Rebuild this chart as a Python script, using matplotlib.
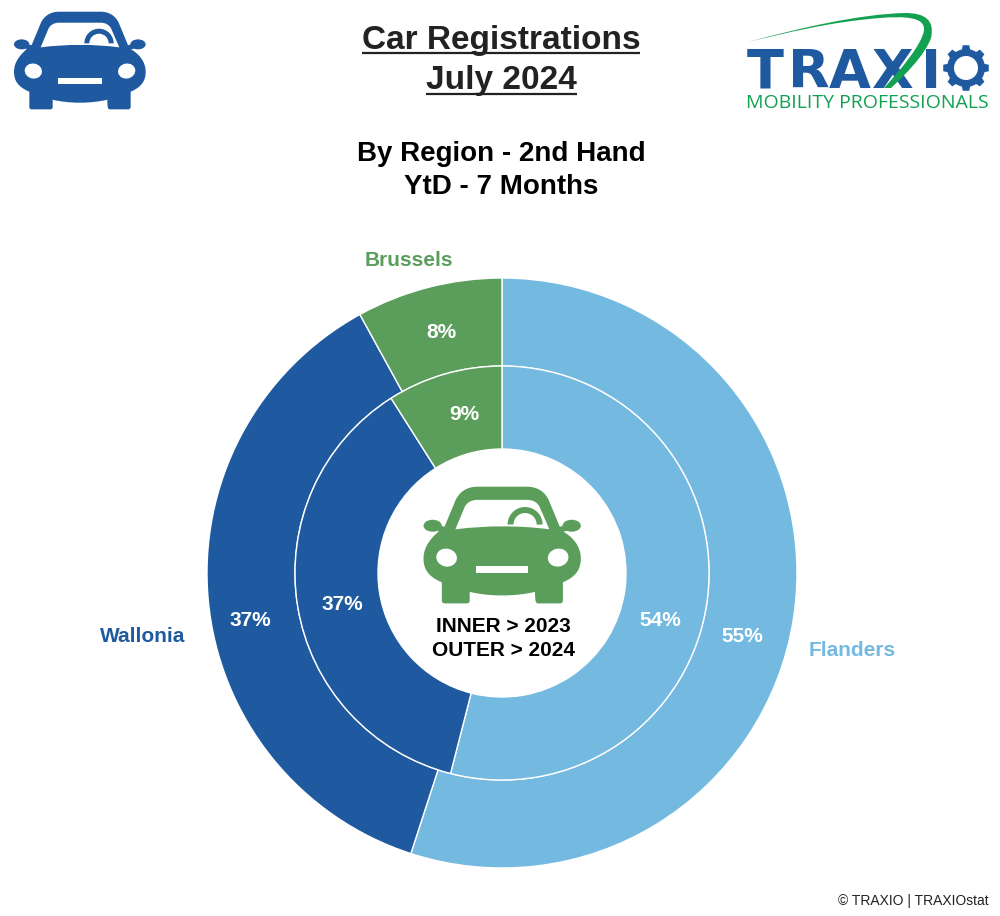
import numpy as np
import matplotlib
matplotlib.use('Agg')
import matplotlib.pyplot as plt
from matplotlib.path import Path
from matplotlib.patches import PathPatch, Ellipse, Rectangle, Wedge, Circle, Polygon

plt.rcParams['font.family'] = ['Liberation Sans', 'DejaVu Sans']

regions = ['Flanders', 'Wallonia', 'Brussels']
share_2024 = [55, 37, 8]
share_2023 = [54, 37, 9]
region_colors = ['#74B9E0', '#1F5AA0', '#5B9E5C']

W, H = 1000, 916
BLUE = '#1F5AA0'
GREEN = '#5B9E5C'
LOGO_GREEN = '#12A150'


def py(y):
    # picture y (down) to axes y (up)
    return H - y


def draw_car(ax, left, top, scale, color):
    # car outline, coords are in a 395 wide box
    def pt(x, y):
        return (left + x * scale, py(top + y * scale))

    M, C, L = Path.MOVETO, Path.CURVE4, Path.LINETO
    body = [
        (M, (53, 100)), (L, (80, 35)), (C, (90, 12)), (C, (110, 0)), (C, (135, 0)),
        (L, (260, 0)), (C, (285, 0)), (C, (305, 12)), (C, (315, 35)),
        (L, (346, 110)), (C, (375, 125)), (C, (395, 150)), (C, (395, 180)),
        (C, (395, 205)), (C, (385, 225)), (C, (350, 240)),
        (L, (350, 285)), (C, (350, 291)), (C, (346, 293)), (C, (342, 293)),
        (L, (288, 293)), (C, (282, 293)), (C, (280, 290)), (C, (280, 264)),
        (C, (230, 276)), (C, (165, 276)), (C, (116, 264)),
        (L, (116, 285)), (C, (116, 291)), (C, (113, 293)), (C, (108, 293)),
        (L, (54, 293)), (C, (49, 293)), (C, (46, 291)), (C, (46, 285)),
        (L, (46, 240)), (C, (10, 225)), (C, (0, 205)), (C, (0, 180)),
        (C, (0, 150)), (C, (20, 125)), (C, (53, 100)),
    ]
    codes = [c for c, _ in body]
    verts = [pt(*v) for _, v in body]
    ax.add_patch(PathPatch(Path(verts, codes), fc=color, ec='none', zorder=5))

    window = [
        (M, (80, 107)), (L, (103, 52)), (C, (108, 40)), (C, (120, 33)), (C, (135, 33)),
        (L, (260, 33)), (C, (275, 33)), (C, (287, 40)), (C, (292, 52)),
        (L, (316, 107)), (C, (240, 97)), (C, (160, 97)), (C, (80, 107)),
    ]
    ax.add_patch(PathPatch(Path([pt(*v) for _, v in window], [c for c, _ in window]),
                           fc='white', ec='none', zorder=6))
    # wiper arc
    cx, cy = pt(255, 95)
    ax.add_patch(Wedge((cx, cy), 44 * scale, 0, 180, width=15 * scale, fc=color, ec='none', zorder=7))
    # mirrors
    for mx, nx in ((23, 45), (372, 350)):
        x, y = pt(mx, 98)
        ax.add_patch(Ellipse((x, y), 46 * scale, 30 * scale, fc=color, ec='none', zorder=5))
        x, y = pt(nx, 106)
        ax.add_patch(Ellipse((x, y), 24 * scale, 14 * scale, fc=color, ec='none', zorder=5))
    # headlights
    for hx, ang in ((58, -12), (338, 12)):
        x, y = pt(hx, 178)
        ax.add_patch(Ellipse((x, y), 52 * scale, 45 * scale, angle=ang, fc='white', ec='none', zorder=6))
    # grille
    x0, y0 = pt(133, 217)
    ax.add_patch(Rectangle((x0, y0), 130 * scale, 17 * scale, fc='white', ec='none', zorder=6))


def draw_gear(ax, cx, cy, r_out, r_in, r_hole, color, teeth=8):
    pts = []
    step = 2 * np.pi / teeth
    for i in range(teeth):
        a = i * step + np.pi / 2
        for da, r in ((-0.5, r_in), (-0.28, r_in), (-0.18, r_out), (0.18, r_out), (0.28, r_in), (0.5, r_in)):
            pts.append((cx + r * np.cos(a + da * step), cy + r * np.sin(a + da * step)))
    ax.add_patch(Polygon(pts, closed=True, fc=color, ec='none', zorder=5))
    ax.add_patch(Circle((cx, cy), r_hole, fc='white', ec='none', zorder=6))


fig = plt.figure(figsize=(W / 100, H / 100), dpi=100, facecolor='white')
ax = fig.add_axes([0, 0, 1, 1])

CX, CY = 502, py(573)
ax.pie(share_2024, colors=region_colors, radius=295, center=(CX, CY), startangle=90,
       counterclock=False, wedgeprops=dict(width=88, edgecolor='white', linewidth=1.0))
ax.pie(share_2023, colors=region_colors, radius=207, center=(CX, CY), startangle=90,
       counterclock=False, wedgeprops=dict(width=83, edgecolor='white', linewidth=1.0))
ax.set_xlim(0, W)
ax.set_ylim(0, H)
ax.set_aspect('equal')
ax.axis('off')

# titles
for txt, y, x0, x1, uy in (('Car Registrations', 40, 362, 640, 53), ('July 2024', 81, 426, 577, 94)):
    ax.text(501, py(y), txt, fontsize=24, fontweight='bold', color='#222222', ha='center', va='center')
    ax.plot([x0, x1], [py(uy)] * 2, color='#222222', lw=1.6, solid_capstyle='butt')
ax.text(501, py(154), 'By Region - 2nd Hand', fontsize=20, fontweight='bold', color='black', ha='center', va='center')
ax.text(501, py(187), 'YtD - 7 Months', fontsize=20, fontweight='bold', color='black', ha='center', va='center')

# region names
name_pos = [(852, 651), (142.5, 636), (409, 261)]
for name, col, (x, y) in zip(regions, region_colors, name_pos):
    ax.text(x, py(y), name, fontsize=15, fontweight='bold', color=col, ha='center', va='center')

# percent labels
outer_pos = [(742, 637), (250, 620), (441, 333)]
inner_pos = [(660, 620), (342, 604), (464, 414)]
for vals, positions in ((share_2024, outer_pos), (share_2023, inner_pos)):
    for v, (x, y) in zip(vals, positions):
        ax.text(x, py(y), f'{v}%', fontsize=15, fontweight='bold', color='white', ha='center', va='center')

ax.text(503, py(626), 'INNER > 2023', fontsize=15, fontweight='bold', color='black', ha='center', va='center', zorder=8)
ax.text(503, py(651), 'OUTER > 2024', fontsize=15, fontweight='bold', color='black', ha='center', va='center', zorder=8)

draw_car(ax, 14, 11.7, 1 / 3, BLUE)
draw_car(ax, 423.5, 486.7, 1.195 / 3, GREEN)

# logo
for letter, x in zip('TRAXI', (765, 809, 850, 893, 931)):
    ax.text(x, py(88), letter, fontsize=39, fontweight='bold', family='DejaVu Sans', color=BLUE,
            ha='center', va='baseline')
draw_gear(ax, 966, py(68), 23, 19, 12, BLUE)
swoosh = [
    (Path.MOVETO, (748, 42)), (Path.CURVE4, (800, 28)), (Path.CURVE4, (860, 14)), (Path.CURVE4, (905, 13)),
    (Path.CURVE4, (925, 13)), (Path.CURVE4, (935, 20)), (Path.CURVE4, (931, 38)),
    (Path.CURVE4, (925, 55)), (Path.CURVE4, (905, 75)), (Path.CURVE4, (891, 88)),
    (Path.LINETO, (884, 88)),
    (Path.CURVE4, (900, 70)), (Path.CURVE4, (922, 45)), (Path.CURVE4, (924, 30)),
    (Path.CURVE4, (925, 17)), (Path.CURVE4, (905, 16)), (Path.CURVE4, (880, 18)),
    (Path.CURVE4, (830, 22)), (Path.CURVE4, (790, 32)), (Path.CURVE4, (748, 42)),
]
ax.add_patch(PathPatch(Path([(x, py(y)) for _, (x, y) in swoosh], [c for c, _ in swoosh]),
                       fc=LOGO_GREEN, ec='none', zorder=7))
ax.text(867, py(103), 'MOBILITY PROFESSIONALS', fontsize=14, family='Open Sans', color=LOGO_GREEN, ha='center', va='center')

ax.text(989, py(901), '© TRAXIO | TRAXIOstat', fontsize=10, color='#222222', ha='right', va='center')

fig.savefig('out.png', dpi=100, facecolor='white')
